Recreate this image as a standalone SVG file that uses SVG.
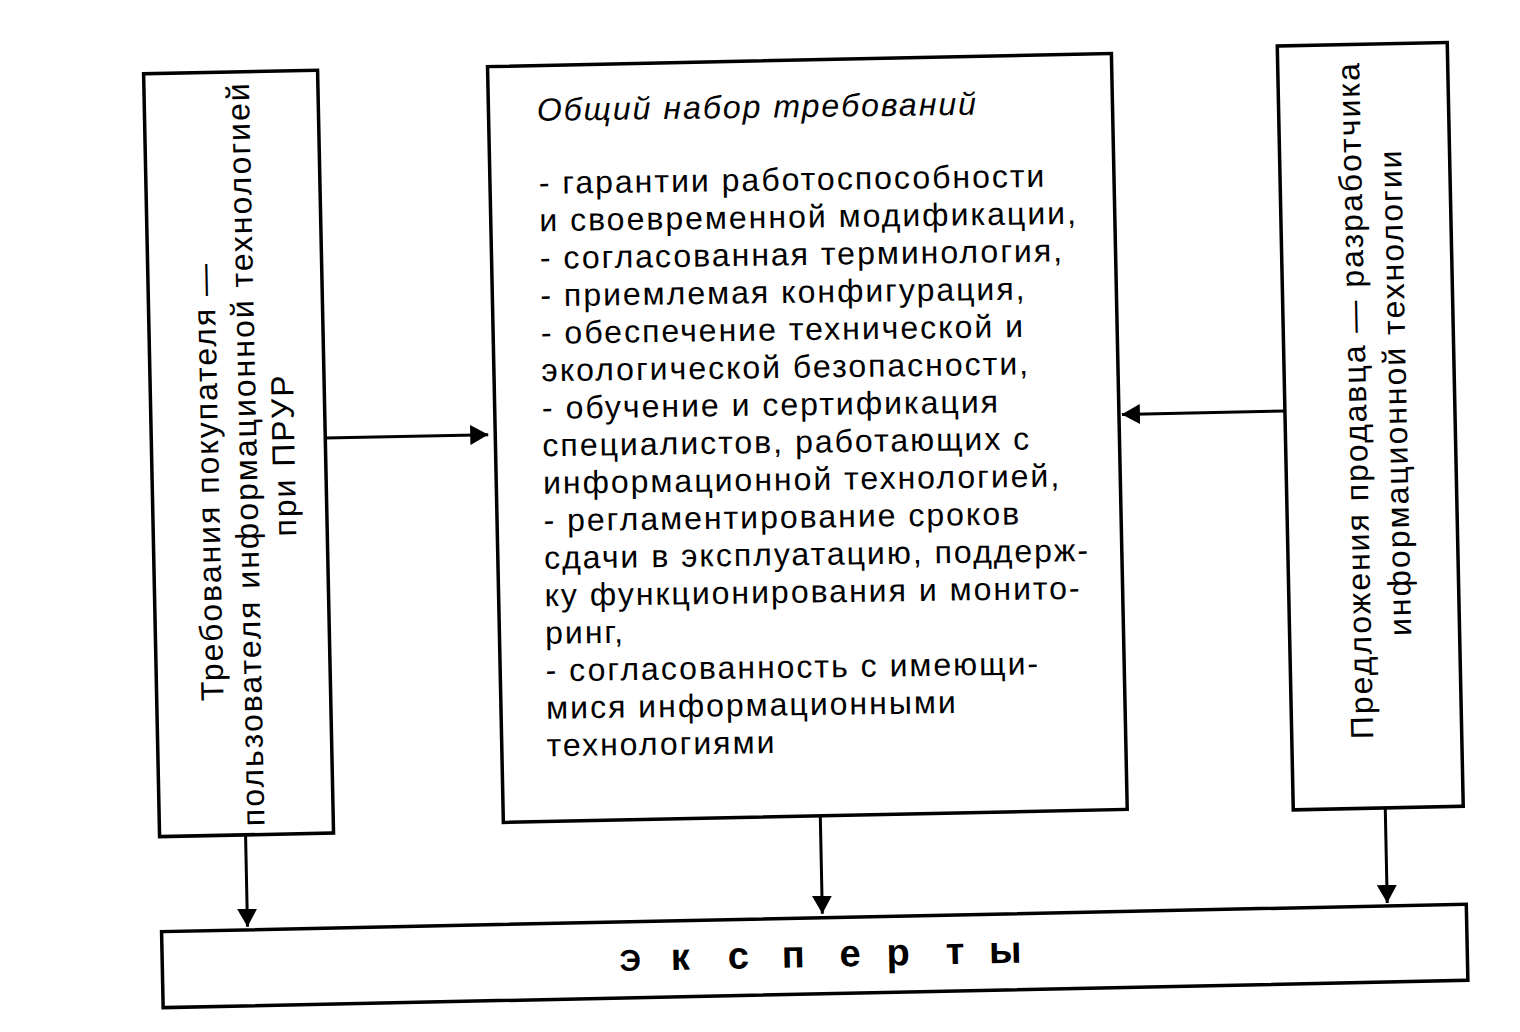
<svg xmlns="http://www.w3.org/2000/svg" width="1520" height="1032" viewBox="0 0 1520 1032">
<defs>
<marker id="ah" viewBox="0 0 18 20" markerUnits="userSpaceOnUse" markerWidth="18" markerHeight="20" refX="18" refY="10" orient="auto">
<path d="M0,0 L18,10 L0,20 Z" fill="#000"/>
</marker>
<style>
.box{fill:#fff;stroke:#000;stroke-width:3.5}
.t{font-family:"Liberation Sans",Arial,sans-serif;font-size:32px;letter-spacing:2px;fill:#000}
.ti{font-style:italic}
.ex{font-family:"Liberation Sans",Arial,sans-serif;font-size:38px;font-weight:bold;fill:#000}
.c{fill:none;stroke:#000;stroke-width:3;marker-end:url(#ah)}
</style>
</defs>
<rect width="1520" height="1032" fill="#fff"/>
<g transform="rotate(-1.2 760 516)">
<g id="buyer">
<rect class="box" x="153" y="61" width="174" height="763"/>
<text class="t" text-anchor="middle" letter-spacing="1.2" transform="translate(219.7 470) rotate(-90)">Требования покупателя —</text>
<text class="t" text-anchor="middle" transform="translate(258 443) rotate(-90)">пользователя информационной технологией</text>
<text class="t" text-anchor="middle" transform="translate(296 445) rotate(-90)">при ПРУР</text>
</g>
<g id="common">
<rect class="box" x="497" y="61" width="624" height="756"/>
<g transform="rotate(0.4 800 440)">
<text class="t ti" x="543" y="118">Общий набор требований</text>
<text class="t" x="544" y="191">- гарантии работоспособности</text>
<text class="t" x="544" y="228.5">и своевременной модификации,</text>
<text class="t" x="544" y="266">- согласованная терминология,</text>
<text class="t" x="544" y="303.5">- приемлемая конфигурация,</text>
<text class="t" x="544" y="341">- обеспечение технической и</text>
<text class="t" x="544" y="378.5">экологической безопасности,</text>
<text class="t" x="544" y="416">- обучение и сертификация</text>
<text class="t" x="544" y="453.5">специалистов, работающих с</text>
<text class="t" x="544" y="491">информационной технологией,</text>
<text class="t" x="544" y="528.5">- регламентирование сроков</text>
<text class="t" x="544" y="566">сдачи в эксплуатацию, поддерж-</text>
<text class="t" x="544" y="603.5">ку функционирования и монито-</text>
<text class="t" x="544" y="641">ринг,</text>
<text class="t" x="544" y="678.5">- согласованность с имеющи-</text>
<text class="t" x="544" y="716">мися информационными</text>
<text class="t" x="544" y="753.5">технологиями</text>
</g>
</g>
<g id="seller">
<rect class="box" x="1287" y="57" width="170" height="764"/>
<text class="t" text-anchor="middle" transform="translate(1368.4 412.7) rotate(-90)">Предложения продавца — разработчика</text>
<text class="t" text-anchor="middle" transform="translate(1408.6 405.6) rotate(-90)">информационной технологии</text>
</g>
<g id="experts">
<rect class="box" x="153" y="919" width="1305" height="76"/>
<text class="ex" text-anchor="middle" x="621 671 729 784 841 889 946 996" y="968"><tspan font-size="30">Э</tspan>ксперты</text>
</g>
<g id="connectors">
<line class="c" x1="327" y1="429" x2="490" y2="429"/>
<line class="c" x1="1287" y1="422" x2="1124" y2="422"/>
<line class="c" x1="239" y1="824" x2="239" y2="916"/>
<line class="c" x1="814" y1="817" x2="814" y2="915"/>
<line class="c" x1="1379" y1="821" x2="1379" y2="916"/>
</g>
</g>
</svg>
